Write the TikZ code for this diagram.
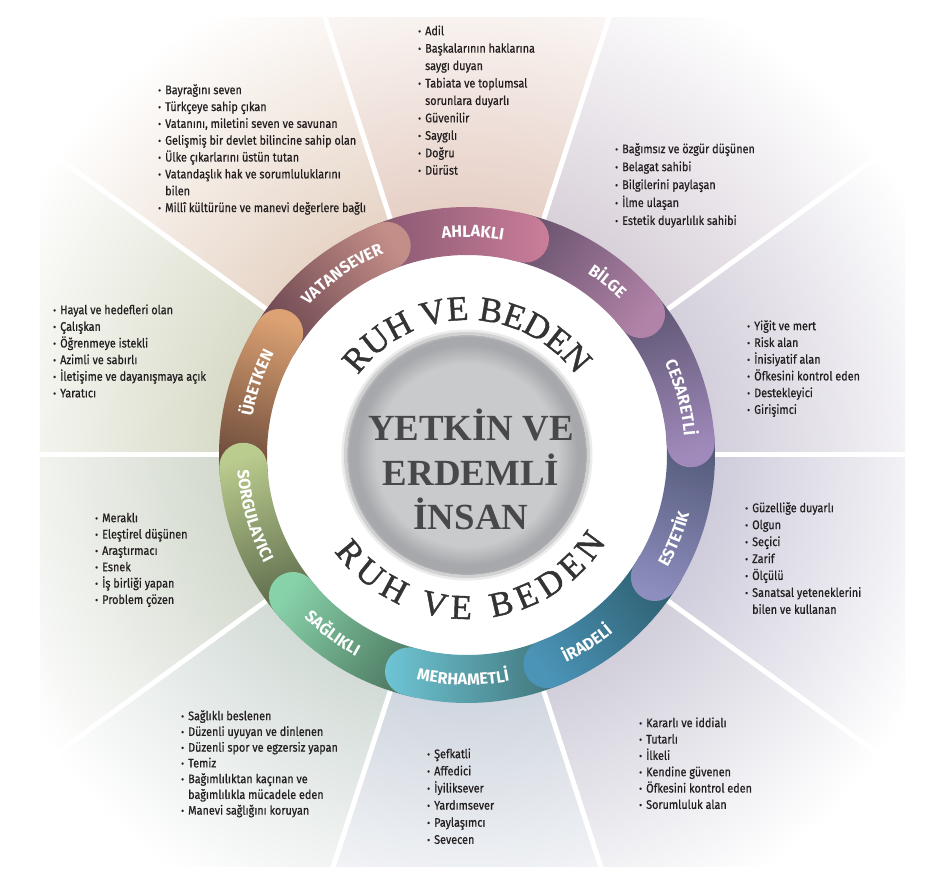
\documentclass[tikz,border=0pt]{standalone}
\usepackage{fontspec}
\usepackage{graphicx}
\setmainfont{Fira Sans}
\newfontfamily\listfont{Fira Sans}[FakeStretch=0.87, FakeBold=0.6]
\newfontfamily\ringfont{Fira Sans}[FakeStretch=0.98]
\newfontfamily\plaquefont{Liberation Serif}[FakeBold=1.2]
\newfontfamily\titlefont{Liberation Serif}
\usetikzlibrary{decorations.text}

%% sector washes
\definecolor{secAhl}{HTML}{E3CABF}
\definecolor{secBil}{HTML}{D4CBD5}
\definecolor{secCes}{HTML}{CEC9D7}
\definecolor{secEst}{HTML}{C9C6D7}
\definecolor{secIra}{HTML}{CCC9D6}
\definecolor{secMer}{HTML}{CBD2DC}
\definecolor{secSag}{HTML}{CDD7D2}
\definecolor{secSor}{HTML}{CED5C8}
\definecolor{secUre}{HTML}{D4D7C2}
\definecolor{secVat}{HTML}{E4D0C0}
%% ring segments: tail (D) / head (L)
\definecolor{vatD}{HTML}{6B4650}\definecolor{vatL}{HTML}{C48E88}
\definecolor{ahlD}{HTML}{84566F}\definecolor{ahlL}{HTML}{CC7E9A}
\definecolor{bilD}{HTML}{6A546E}\definecolor{bilL}{HTML}{B283A8}
\definecolor{cesD}{HTML}{5C5470}\definecolor{cesL}{HTML}{A08ABB}
\definecolor{estD}{HTML}{535A78}\definecolor{estL}{HTML}{8D8DBE}
\definecolor{iraD}{HTML}{2E5F70}\definecolor{iraL}{HTML}{4B94B8}
\definecolor{merD}{HTML}{3E6F74}\definecolor{merL}{HTML}{6FC6D6}
\definecolor{sagD}{HTML}{4E7A62}\definecolor{sagL}{HTML}{88D2AA}
\definecolor{sorD}{HTML}{5A684A}\definecolor{sorL}{HTML}{BACC8E}
\definecolor{ureD}{HTML}{6B4A3A}\definecolor{ureL}{HTML}{DCA273}
%% text and plate
\definecolor{ink}{HTML}{231F20}
\definecolor{plaque}{HTML}{333335}
\definecolor{title}{HTML}{48484A}
\definecolor{plateC}{HTML}{C9CACC}
\definecolor{plateR}{HTML}{A6A8AB}
\definecolor{plateE}{HTML}{B8BABD}
\colorlet{secc}{white}

\pgfdeclareradialshading[secc]{secfade}{\pgfpoint{0bp}{0bp}}{%
  color(0bp)=(secc); color(10.5bp)=(secc); color(25bp)=(white); color(50bp)=(white)}
\pgfdeclareradialshading{plate}{\pgfpoint{0bp}{0bp}}{%
  color(0bp)=(plateC); color(19bp)=(plateC); color(23bp)=(plateR);
  color(24.6bp)=(plateR); color(25bp)=(plateE); color(50bp)=(plateE)}

\tikzset{
  %% text
  lst/.style     = {anchor=north west, inner sep=0pt, align=left, text=ink,
                    font=\listfont\fontsize{12.5}{#1}\selectfont},
  ttl/.style     = {anchor=base, inner sep=0pt, text=title,
                    font=\titlefont\bfseries\fontsize{37}{37}\selectfont},
  %% lines
  sepline/.style = {white, line width=5bp},
  halo/.style    = {line width=3bp},
}

\newcommand\lbul{\makebox[7bp][l]{\rule{0pt}{11bp}\raisebox{0.4bp}{\scalebox{0.8}{\textbullet}}}}
\newcommand\lcont{\hspace*{7bp}}
%% one ring segment: centre angle, tail colour, head colour
\newcommand\ringseg[3]{%
  \pgfmathsetmacro\segt{#1+24}\pgfmathsetmacro\segh{#1-15}\pgfmathsetmacro\sega{#1-180}%
  \shade[top color=#3, bottom color=#2, shading angle=\sega]
    (\segt:248) arc[start angle=\segt, end angle=\segh, radius=248]
    arc[start angle=\segh, end angle=\segh-180, radius=24]
    arc[start angle=\segh, end angle=\segt, radius=200] -- cycle;}
\newcommand\ringup[2]{%
  \path[decorate, decoration={text along path, text align=center, text color=white,
      text={|\ringfont\bfseries\fontsize{16.5}{16.5}\selectfont|#2}}]
    (#1+25:218) arc[start angle=#1+25, end angle=#1-25, radius=218];}
\newcommand\ringdn[2]{%
  \path[decorate, decoration={text along path, text align=center, text color=white,
      text={|\ringfont\bfseries\fontsize{16.5}{16.5}\selectfont|#2}}]
    (#1-25:230) arc[start angle=#1-25, end angle=#1+25, radius=230];}

\begin{document}
\begin{tikzpicture}[x=1bp, y=1bp]
\useasboundingbox (-467,-428) rectangle (463,455);
\fill[white] (-467,-428) rectangle (463,455);

%% ============ sector washes ============
\begin{scope}
  \clip (-427,-411) rectangle (438,437);
  \foreach \c/\col in {90/secAhl, 54/secBil, 18/secCes, -18/secEst, -54/secIra,
                       -90/secMer, -126/secSag, -162/secSor, 162/secUre, 126/secVat}{
    \colorlet{secc}{\col}
    \begin{scope}
      \clip (0,0) -- (\c-18:900) arc[start angle=\c-18, end angle=\c+18, radius=900] -- cycle;
      \shade[shading=secfade] (0,0) circle (510);
    \end{scope}
  }
  \foreach \a in {0,36,...,324}
    \draw[sepline] (\a:248) -- (\a:720);
\end{scope}

%% ============ ring ============
\fill[white] (0,0) circle (202);
\foreach \c/\dk/\lt in {126/vatD/vatL, 162/ureD/ureL, -162/sorD/sorL, -126/sagD/sagL,
                        -90/merD/merL, -54/iraD/iraL, -18/estD/estL, 18/cesD/cesL,
                        54/bilD/bilL, 90/ahlD/ahlL}
  {\ringseg{\c}{\dk}{\lt}}
% vatansever head goes back on top of ahlakli
\begin{scope}
  \clip (0,0) -- (99:300) arc[start angle=99, end angle=118, radius=300] -- cycle;
  \ringseg{126}{vatD}{vatL}
\end{scope}

\ringup{88.5}{AHLAKLI}
\ringup{51}{BİLGE}
\ringup{15}{CESARETLİ}
\ringup{161}{ÜRETKEN}
\ringup{124.6}{VATANSEVER}
\ringdn{-22}{ESTETİK}
\ringdn{-57.5}{İRADELİ}
\ringdn{-91}{MERHAMETLİ}
\ringdn{-127}{SAĞLIKLI}
\ringdn{-164}{SORGULAYICI}

%% ============ centre plate ============
\draw[halo, black!8] (0,0) circle (124);
\draw[halo, black!18] (0,0) circle (121.5);
\shade[shading=plate] (0,0) circle (120);

\path[decorate, decoration={text along path, text align=center, text color=plaque,
    text={|\plaquefont\fontsize{35}{35}\selectfont|RUH VE BEDEN}}]
  (150:135) arc[start angle=150, end angle=30, radius=135];
\path[decorate, decoration={text along path, text align=fit to path, text color=plaque,
    text={|\plaquefont\fontsize{35}{35}\selectfont|RUH VE BEDEN}}]
  (-144:164) arc[start angle=-144, end angle=-32, radius=164];

\node[ttl] (ttlA) at (4,14) {YETKİN VE};
\node[ttl] (ttlB) at (4,-30) {ERDEMLİ};
\node[ttl] (ttlC) at (4,-74) {İNSAN};

%% ============ trait lists ============
\node[lst=17.5] (lAhl) at (-49,431) {\lbul Adil\\ \lbul Başkalarının haklarına\\ \lcont saygı duyan\\
  \lbul Tabiata ve toplumsal\\ \lcont sorunlara duyarlı\\ \lbul Güvenilir\\ \lbul Saygılı\\
  \lbul Doğru\\ \lbul Dürüst};
\node[lst=16.9] (lVat) at (-309,372) {\lbul Bayrağını seven\\ \lbul Türkçeye sahip çıkan\\
  \lbul Vatanını, miletini seven ve savunan\\ \lbul Gelişmiş bir devlet bilincine sahip olan\\
  \lbul Ülke çıkarlarını üstün tutan\\ \lbul Vatandaşlık hak ve sorumluluklarını\\ \lcont bilen\\
  \lbul Millî kültürüne ve manevi değerlere bağlı};
\node[lst=18] (lBil) at (148,313) {\lbul Bağımsız ve özgür düşünen\\ \lbul Belagat sahibi\\
  \lbul Bilgilerini paylaşan\\ \lbul İlme ulaşan\\ \lbul Estetik duyarlılık sahibi};
\node[lst=16.7] (lUre) at (-414,152) {\lbul Hayal ve hedefleri olan\\ \lbul Çalışkan\\
  \lbul Öğrenmeye istekli\\ \lbul Azimli ve sabırlı\\ \lbul İletişime ve dayanışmaya açık\\
  \lbul Yaratıcı};
\node[lst=16.8] (lCes) at (280,136) {\lbul Yiğit ve mert\\ \lbul Risk alan\\ \lbul İnisiyatif alan\\
  \lbul Öfkesini kontrol eden\\ \lbul Destekleyici\\ \lbul Girişimci};
\node[lst=16.4] (lSor) at (-372,-56) {\lbul Meraklı\\ \lbul Eleştirel düşünen\\ \lbul Araştırmacı\\
  \lbul Esnek\\ \lbul İş birliği yapan\\ \lbul Problem çözen};
\node[lst=17] (lEst) at (278,-46) {\lbul Güzelliğe duyarlı\\ \lbul Olgun\\ \lbul Seçici\\ \lbul Zarif\\
  \lbul Ölçülü\\ \lbul Sanatsal yeteneklerini\\ \lcont bilen ve kullanan};
\node[lst=15.8] (lSag) at (-286,-254) {\lbul Sağlıklı beslenen\\ \lbul Düzenli uyuyan ve dinlenen\\
  \lbul Düzenli spor ve egzersiz yapan\\ \lbul Temiz\\ \lbul Bağımlılıktan kaçınan ve\\
  \lcont bağımlılıkla mücadele eden\\ \lbul Manevi sağlığını koruyan};
\node[lst=17.2] (lMer) at (-40,-292) {\lbul Şefkatli\\ \lbul Affedici\\ \lbul İyiliksever\\
  \lbul Yardımsever\\ \lbul Paylaşımcı\\ \lbul Sevecen};
\node[lst=16.4] (lIra) at (172,-261) {\lbul Kararlı ve iddialı\\ \lbul Tutarlı\\ \lbul İlkeli\\
  \lbul Kendine güvenen\\ \lbul Öfkesini kontrol eden\\ \lbul Sorumluluk alan};

\end{tikzpicture}
\end{document}
